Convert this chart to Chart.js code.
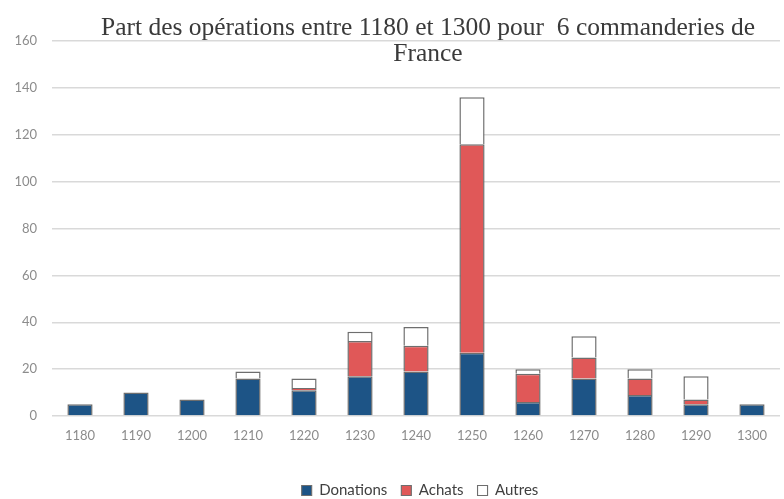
<!DOCTYPE html>
<html>
<head>
<meta charset="utf-8">
<script src="https://cdn.jsdelivr.net/npm/chart.js@4/dist/chart.umd.min.js"></script>
<style>
  html, body { margin: 0; padding: 0; background: #ffffff; }
  #wrap { width: 784px; height: 499px; position: relative; }
</style>
</head>
<body>
<div id="wrap"><canvas id="chart"></canvas></div>
<script>
const titleLines = ["Part des opérations entre 1180 et 1300 pour  6 commanderies de", "France"];
const decades = ["1180", "1190", "1200", "1210", "1220", "1230", "1240", "1250", "1260", "1270", "1280", "1290", "1300"];
const donations = [5, 10, 7, 16, 11, 17, 19, 27, 6, 16, 9, 5, 5];
const achats    = [0, 0, 0, 0, 1, 15, 11, 89, 12, 9, 7, 2, 0];
const autres    = [0, 0, 0, 3, 4, 4, 8, 20, 2, 9, 4, 10, 0];
const yTicks = [0, 20, 40, 60, 80, 100, 120, 140, 160];

const edge = "#6e6e6e";
const barBorder = { top: 1.5, left: 1.5, right: 1.5, bottom: 0 };

// title sits over the plot, the 160 gridline runs between its two lines
const overlayTitle = {
    id: "overlayTitle",
    afterLayout(chart) {
        // legend in the original is centred under the plot, not the page
        chart.legend.left += 30;
        chart.legend.right += 30;
    },
    afterDraw(chart) {
        const ctx = chart.ctx;
        ctx.save();
        ctx.font = '25.5px "Liberation Serif"';
        ctx.fillStyle = "#3a3a3a";
        ctx.textAlign = "center";
        ctx.textBaseline = "alphabetic";
        ctx.fillText(titleLines[0], 428, 35);
        ctx.fillText(titleLines[1], 428, 61);
        ctx.restore();
    }
};

new Chart(document.getElementById("chart"), {
    type: "bar",
    data: {
        labels: decades,
        datasets: [
            { label: "Donations", data: donations, backgroundColor: "#1d5486", borderColor: edge, borderWidth: barBorder, borderSkipped: false },
            { label: "Achats", data: achats, backgroundColor: "#e05858", borderColor: edge, borderWidth: barBorder, borderSkipped: false },
            { label: "Autres", data: autres, backgroundColor: "#ffffff", borderColor: edge, borderWidth: barBorder, borderSkipped: false }
        ]
    },
    options: {
        responsive: true,
        maintainAspectRatio: false,
        animation: false,
        layout: { padding: { top: 41, right: 4, left: 0, bottom: -9 } },
        datasets: { bar: { categoryPercentage: 1, barPercentage: 0.45 } },
        plugins: {
            title: { display: false },
            tooltip: { enabled: false },
            legend: {
                position: "bottom",
                labels: {
                    font: { family: "Lato", size: 15 },
                    color: "#404040",
                    boxWidth: 10,
                    boxHeight: 10,
                    padding: 14
                }
            }
        },
        scales: {
            x: {
                stacked: true,
                grid: { display: false, drawTicks: false },
                border: { display: false },
                ticks: { font: { family: "Lato", size: 13 }, color: "#8c8c8c", padding: 12 },
                afterFit(scale) { scale.height = 53; }
            },
            y: {
                stacked: true,
                min: 0,
                max: 160,
                afterBuildTicks(scale) { scale.ticks = yTicks.map(v => ({ value: v })); },
                grid: { color: "#d9d9d9", lineWidth: 1.5, drawTicks: false },
                border: { display: false },
                ticks: { font: { family: "Lato", size: 13 }, color: "#8c8c8c", padding: 15 },
                afterFit(scale) { scale.width = 52; }
            }
        }
    },
    plugins: [overlayTitle]
});
</script>
</body>
</html>
